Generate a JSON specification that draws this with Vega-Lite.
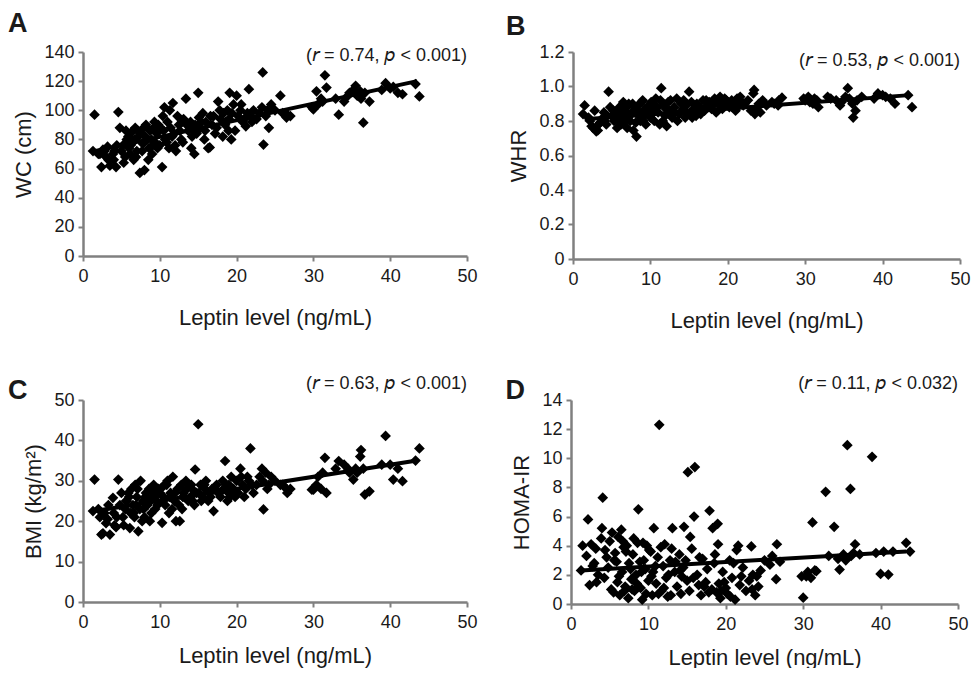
{
  "$schema": "https://vega.github.io/schema/vega-lite/v6.json",
  "background": "white",
  "padding": {"left": 7, "top": 10, "right": 0, "bottom": 0},
  "config": {
    "font": "Liberation Sans",
    "view": {"stroke": null},
    "axis": {
      "grid": false,
      "domainColor": "#808080",
      "domainWidth": 2.5,
      "tickColor": "#808080",
      "tickWidth": 2,
      "tickSize": 5,
      "labelColor": "#1a1a1a",
      "labelFontSize": 18,
      "labelFont": "Liberation Sans",
      "titleFont": "Liberation Sans",
      "titleFontSize": 22,
      "titleFontWeight": "normal",
      "titleColor": "#1a1a1a",
      "labelOverlap": false
    },
    "axisX": {"labelPadding": 6, "labelFlush": false},
    "axisY": {"labelPadding": 4, "titlePadding": 8}
  },
  "datasets": {
    "s": [
      {"leptin":1.5,"wc":97,"whr":0.89,"bmi":30.3,"homa":4.0},
      {"leptin":1.3,"wc":72,"whr":0.84,"bmi":22.5,"homa":2.3},
      {"leptin":2.2,"wc":70,"whr":0.80,"bmi":21,"homa":5.8},
      {"leptin":2.4,"wc":61,"whr":0.77,"bmi":16.7,"homa":1.3},
      {"leptin":2.6,"wc":73,"whr":0.76,"bmi":17,"homa":4.1},
      {"leptin":3.0,"wc":68,"whr":0.74,"bmi":19.5,"homa":2.8},
      {"leptin":3.2,"wc":75,"whr":0.745,"bmi":20.5,"homa":3.8},
      {"leptin":3.5,"wc":62,"whr":0.79,"bmi":16.7,"homa":2.0},
      {"leptin":3.9,"wc":70,"whr":0.82,"bmi":25.8,"homa":4.5},
      {"leptin":4.0,"wc":66,"whr":0.85,"bmi":22,"homa":5.2},
      {"leptin":4.1,"wc":72,"whr":0.80,"bmi":19,"homa":7.3},
      {"leptin":4.3,"wc":61,"whr":0.78,"bmi":18.5,"homa":1.8},
      {"leptin":4.6,"wc":98.8,"whr":0.97,"bmi":30.3,"homa":3.2},
      {"leptin":4.8,"wc":88,"whr":0.88,"bmi":24,"homa":2.5},
      {"leptin":5.0,"wc":72,"whr":0.83,"bmi":27,"homa":4.3},
      {"leptin":5.2,"wc":76,"whr":0.86,"bmi":21,"homa":1.0},
      {"leptin":5.5,"wc":68,"whr":0.81,"bmi":23,"homa":0.8},
      {"leptin":5.7,"wc":80,"whr":0.76,"bmi":25,"homa":3.5},
      {"leptin":6.0,"wc":74,"whr":0.88,"bmi":26,"homa":1.5},
      {"leptin":6.1,"wc":70,"whr":0.84,"bmi":18.3,"homa":4.6},
      {"leptin":6.3,"wc":85,"whr":0.79,"bmi":28,"homa":0.6},
      {"leptin":6.5,"wc":78,"whr":0.91,"bmi":24,"homa":5.1},
      {"leptin":6.6,"wc":66,"whr":0.82,"bmi":22,"homa":2.2},
      {"leptin":6.8,"wc":88,"whr":0.86,"bmi":29,"homa":3.9},
      {"leptin":7.0,"wc":72,"whr":0.76,"bmi":26,"homa":1.2},
      {"leptin":7.2,"wc":82,"whr":0.90,"bmi":17.5,"homa":4.0},
      {"leptin":7.4,"wc":57,"whr":0.80,"bmi":23,"homa":0.4},
      {"leptin":7.5,"wc":84,"whr":0.84,"bmi":30,"homa":2.8},
      {"leptin":7.8,"wc":77,"whr":0.745,"bmi":25,"homa":1.7},
      {"leptin":8.0,"wc":59,"whr":0.87,"bmi":21,"homa":3.4},
      {"leptin":8.2,"wc":90,"whr":0.71,"bmi":27,"homa":0.9},
      {"leptin":8.4,"wc":80,"whr":0.89,"bmi":24,"homa":2.0},
      {"leptin":8.6,"wc":74,"whr":0.85,"bmi":28,"homa":4.2},
      {"leptin":8.7,"wc":86,"whr":0.80,"bmi":20,"homa":6.5},
      {"leptin":9.0,"wc":70,"whr":0.92,"bmi":26,"homa":1.1},
      {"leptin":9.2,"wc":88,"whr":0.83,"bmi":29,"homa":0.3},
      {"leptin":9.4,"wc":78,"whr":0.78,"bmi":23,"homa":3.0},
      {"leptin":9.6,"wc":84,"whr":0.88,"bmi":25,"homa":2.4},
      {"leptin":9.8,"wc":90,"whr":0.86,"bmi":28,"homa":4.0},
      {"leptin":10.0,"wc":76,"whr":0.82,"bmi":27,"homa":1.6},
      {"leptin":10.3,"wc":61,"whr":0.90,"bmi":19.6,"homa":3.6},
      {"leptin":10.5,"wc":86,"whr":0.80,"bmi":26,"homa":0.6},
      {"leptin":10.6,"wc":102,"whr":0.87,"bmi":29,"homa":2.2},
      {"leptin":10.7,"wc":80,"whr":0.93,"bmi":24,"homa":5.2},
      {"leptin":11.0,"wc":92,"whr":0.85,"bmi":30,"homa":1.4},
      {"leptin":11.2,"wc":74,"whr":0.78,"bmi":22,"homa":3.2},
      {"leptin":11.4,"wc":88,"whr":0.99,"bmi":27,"homa":12.3},
      {"leptin":11.7,"wc":105,"whr":0.89,"bmi":31,"homa":0.9},
      {"leptin":11.9,"wc":84,"whr":0.83,"bmi":25,"homa":2.6},
      {"leptin":12.1,"wc":72,"whr":0.77,"bmi":20,"homa":4.1},
      {"leptin":12.3,"wc":96,"whr":0.91,"bmi":28,"homa":1.8},
      {"leptin":12.5,"wc":90,"whr":0.86,"bmi":24,"homa":0.5},
      {"leptin":12.8,"wc":80,"whr":0.82,"bmi":29,"homa":3.0},
      {"leptin":13.1,"wc":94,"whr":0.88,"bmi":27,"homa":5.2},
      {"leptin":13.4,"wc":108,"whr":0.93,"bmi":30,"homa":2.2},
      {"leptin":13.7,"wc":86,"whr":0.84,"bmi":25,"homa":1.2},
      {"leptin":14.0,"wc":92,"whr":0.90,"bmi":26,"homa":3.4},
      {"leptin":14.2,"wc":82,"whr":0.87,"bmi":28,"homa":0.7},
      {"leptin":14.5,"wc":70,"whr":0.82,"bmi":24,"homa":2.5},
      {"leptin":14.6,"wc":90,"whr":0.89,"bmi":32.8,"homa":5.3},
      {"leptin":15.0,"wc":112,"whr":0.97,"bmi":44,"homa":1.6},
      {"leptin":15.1,"wc":95,"whr":0.85,"bmi":27,"homa":9.05},
      {"leptin":15.3,"wc":88,"whr":0.91,"bmi":29,"homa":0.9},
      {"leptin":15.6,"wc":98,"whr":0.87,"bmi":26,"homa":3.8},
      {"leptin":15.9,"wc":86,"whr":0.83,"bmi":28,"homa":6.0},
      {"leptin":16.0,"wc":92,"whr":0.90,"bmi":30,"homa":9.4},
      {"leptin":16.3,"wc":74,"whr":0.88,"bmi":25,"homa":2.0},
      {"leptin":16.5,"wc":74.5,"whr":0.84,"bmi":27,"homa":1.3},
      {"leptin":16.8,"wc":90,"whr":0.92,"bmi":28,"homa":0.6},
      {"leptin":17.0,"wc":96,"whr":0.86,"bmi":22.5,"homa":3.1},
      {"leptin":17.4,"wc":88,"whr":0.89,"bmi":29,"homa":1.5},
      {"leptin":17.6,"wc":106,"whr":0.91,"bmi":27,"homa":2.4},
      {"leptin":17.9,"wc":94,"whr":0.87,"bmi":26,"homa":6.4},
      {"leptin":18.2,"wc":82,"whr":0.90,"bmi":30,"homa":1.0},
      {"leptin":18.3,"wc":98,"whr":0.93,"bmi":28,"homa":5.2},
      {"leptin":18.5,"wc":90,"whr":0.85,"bmi":34.9,"homa":2.8},
      {"leptin":18.8,"wc":100,"whr":0.92,"bmi":25,"homa":0.8},
      {"leptin":18.95,"wc":86,"whr":0.89,"bmi":27,"homa":5.5},
      {"leptin":19.0,"wc":94,"whr":0.94,"bmi":29,"homa":4.1},
      {"leptin":19.1,"wc":112,"whr":0.90,"bmi":26,"homa":1.4},
      {"leptin":19.3,"wc":80,"whr":0.87,"bmi":31,"homa":0.4},
      {"leptin":19.6,"wc":104,"whr":0.93,"bmi":28,"homa":2.2},
      {"leptin":20.0,"wc":110,"whr":0.91,"bmi":30,"homa":1.1},
      {"leptin":20.2,"wc":96,"whr":0.88,"bmi":27,"homa":0.7},
      {"leptin":20.5,"wc":100,"whr":0.92,"bmi":33,"homa":3.0},
      {"leptin":20.8,"wc":92,"whr":0.90,"bmi":29,"homa":1.8},
      {"leptin":21.2,"wc":89,"whr":0.93,"bmi":28,"homa":0.3},
      {"leptin":21.4,"wc":98,"whr":0.89,"bmi":31,"homa":3.7},
      {"leptin":21.6,"wc":114.5,"whr":0.94,"bmi":30,"homa":4.0},
      {"leptin":21.8,"wc":96,"whr":0.91,"bmi":38,"homa":1.3},
      {"leptin":22.2,"wc":100,"whr":0.90,"bmi":27,"homa":2.5},
      {"leptin":22.6,"wc":94,"whr":0.92,"bmi":29,"homa":0.9},
      {"leptin":23.0,"wc":98,"whr":0.86,"bmi":31,"homa":1.6},
      {"leptin":23.3,"wc":102,"whr":0.96,"bmi":33,"homa":3.95},
      {"leptin":23.4,"wc":126,"whr":0.98,"bmi":30,"homa":1.0},
      {"leptin":23.5,"wc":76.5,"whr":0.84,"bmi":22.9,"homa":2.0},
      {"leptin":23.8,"wc":96,"whr":0.88,"bmi":32,"homa":0.6},
      {"leptin":24.0,"wc":100,"whr":0.90,"bmi":28,"homa":1.9},
      {"leptin":24.2,"wc":88,"whr":0.85,"bmi":29,"homa":1.2},
      {"leptin":24.5,"wc":104,"whr":0.92,"bmi":31,"homa":2.3},
      {"leptin":25.0,"wc":100,"whr":0.89,"bmi":30,"homa":3.0},
      {"leptin":25.7,"wc":110,"whr":0.91,"bmi":29,"homa":2.7},
      {"leptin":26.0,"wc":98,"whr":0.90,"bmi":29,"homa":3.3},
      {"leptin":26.5,"wc":95,"whr":0.89,"bmi":28,"homa":1.7},
      {"leptin":26.6,"wc":97,"whr":0.92,"bmi":27,"homa":4.1},
      {"leptin":27.0,"wc":96,"whr":0.935,"bmi":28,"homa":2.9},
      {"leptin":29.8,"wc":102,"whr":0.93,"bmi":27.8,"homa":1.9},
      {"leptin":30.0,"wc":100.7,"whr":0.92,"bmi":27.8,"homa":0.43},
      {"leptin":30.4,"wc":113,"whr":0.94,"bmi":29,"homa":1.9},
      {"leptin":30.6,"wc":104,"whr":0.91,"bmi":31,"homa":2.2},
      {"leptin":31.0,"wc":108,"whr":0.90,"bmi":28,"homa":1.8},
      {"leptin":31.2,"wc":106,"whr":0.93,"bmi":32,"homa":5.6},
      {"leptin":31.5,"wc":124,"whr":0.92,"bmi":35.7,"homa":2.3},
      {"leptin":31.7,"wc":115.6,"whr":0.88,"bmi":27,"homa":2.25},
      {"leptin":32.9,"wc":108,"whr":0.94,"bmi":33,"homa":7.7},
      {"leptin":33.3,"wc":97,"whr":0.93,"bmi":34.9,"homa":3.3},
      {"leptin":34.0,"wc":106,"whr":0.92,"bmi":34,"homa":5.3},
      {"leptin":34.5,"wc":110,"whr":0.89,"bmi":33,"homa":3.1},
      {"leptin":34.7,"wc":112,"whr":0.91,"bmi":32,"homa":2.36},
      {"leptin":35.2,"wc":114,"whr":0.94,"bmi":30.3,"homa":3.4},
      {"leptin":35.5,"wc":116.8,"whr":0.99,"bmi":33,"homa":3.0},
      {"leptin":35.7,"wc":110,"whr":0.93,"bmi":32,"homa":10.9},
      {"leptin":36.1,"wc":113,"whr":0.90,"bmi":36,"homa":7.9},
      {"leptin":36.2,"wc":108,"whr":0.82,"bmi":37.6,"homa":3.3},
      {"leptin":36.5,"wc":91.5,"whr":0.86,"bmi":33,"homa":3.5},
      {"leptin":36.7,"wc":112,"whr":0.92,"bmi":26.6,"homa":4.1},
      {"leptin":37.3,"wc":106,"whr":0.94,"bmi":27.4,"homa":3.4},
      {"leptin":38.9,"wc":114,"whr":0.93,"bmi":34,"homa":10.1},
      {"leptin":39.4,"wc":118.6,"whr":0.96,"bmi":41.1,"homa":3.5},
      {"leptin":40.0,"wc":115,"whr":0.95,"bmi":34,"homa":2.06},
      {"leptin":40.4,"wc":116,"whr":0.94,"bmi":30.3,"homa":3.6},
      {"leptin":41.0,"wc":112,"whr":0.93,"bmi":33,"homa":2.02},
      {"leptin":41.6,"wc":111,"whr":0.90,"bmi":29.9,"homa":3.6},
      {"leptin":43.3,"wc":118,"whr":0.95,"bmi":35,"homa":4.2},
      {"leptin":43.8,"wc":109.5,"whr":0.88,"bmi":38,"homa":3.6},
      {"leptin":2.0,"wc":70,"whr":0.82,"bmi":23,"homa":3.3},
      {"leptin":2.8,"wc":72,"whr":0.86,"bmi":22,"homa":2.6},
      {"leptin":3.3,"wc":66,"whr":0.78,"bmi":24,"homa":1.5},
      {"leptin":4.4,"wc":76,"whr":0.83,"bmi":21,"homa":3.7},
      {"leptin":5.3,"wc":64,"whr":0.80,"bmi":19,"homa":4.9},
      {"leptin":5.9,"wc":82,"whr":0.85,"bmi":27,"homa":2.9},
      {"leptin":6.2,"wc":76,"whr":0.78,"bmi":22,"homa":1.9},
      {"leptin":6.9,"wc":68,"whr":0.88,"bmi":24,"homa":0.9},
      {"leptin":7.1,"wc":86,"whr":0.82,"bmi":28,"homa":3.6},
      {"leptin":7.7,"wc":72,"whr":0.90,"bmi":20,"homa":2.4},
      {"leptin":8.1,"wc":82,"whr":0.79,"bmi":26,"homa":4.5},
      {"leptin":8.5,"wc":66,"whr":0.83,"bmi":25,"homa":1.4},
      {"leptin":8.9,"wc":80,"whr":0.91,"bmi":22,"homa":2.9},
      {"leptin":9.3,"wc":92,"whr":0.87,"bmi":26,"homa":4.2},
      {"leptin":9.7,"wc":74,"whr":0.84,"bmi":24,"homa":0.7},
      {"leptin":10.1,"wc":88,"whr":0.91,"bmi":28,"homa":3.7},
      {"leptin":10.4,"wc":96,"whr":0.85,"bmi":25,"homa":1.9},
      {"leptin":10.9,"wc":78,"whr":0.88,"bmi":29,"homa":2.6},
      {"leptin":11.3,"wc":100,"whr":0.92,"bmi":26,"homa":0.7},
      {"leptin":11.6,"wc":82,"whr":0.80,"bmi":23,"homa":3.9},
      {"leptin":12.0,"wc":76,"whr":0.87,"bmi":27,"homa":1.1},
      {"leptin":12.6,"wc":86,"whr":0.92,"bmi":20,"homa":2.0},
      {"leptin":13.0,"wc":78,"whr":0.86,"bmi":26,"homa":3.8},
      {"leptin":13.5,"wc":90,"whr":0.80,"bmi":28,"homa":2.9},
      {"leptin":14.3,"wc":88,"whr":0.92,"bmi":25,"homa":1.9},
      {"leptin":14.8,"wc":84,"whr":0.84,"bmi":27,"homa":3.0},
      {"leptin":15.4,"wc":92,"whr":0.82,"bmi":25,"homa":4.6},
      {"leptin":15.8,"wc":80,"whr":0.89,"bmi":29,"homa":1.8},
      {"leptin":16.6,"wc":96,"whr":0.87,"bmi":26,"homa":3.2},
      {"leptin":17.2,"wc":84,"whr":0.92,"bmi":28,"homa":1.2},
      {"leptin":17.8,"wc":100,"whr":0.88,"bmi":27,"homa":0.8},
      {"leptin":18.6,"wc":92,"whr":0.91,"bmi":29,"homa":3.4},
      {"leptin":19.4,"wc":98,"whr":0.89,"bmi":27,"homa":0.9},
      {"leptin":19.8,"wc":86,"whr":0.92,"bmi":26,"homa":1.5},
      {"leptin":20.6,"wc":104,"whr":0.88,"bmi":31,"homa":0.5},
      {"leptin":21.0,"wc":94,"whr":0.86,"bmi":26,"homa":2.8},
      {"leptin":22.0,"wc":92,"whr":0.89,"bmi":29,"homa":1.9},
      {"leptin":5.6,"wc":86,"whr":0.84,"bmi":25,"homa":3.0},
      {"leptin":6.7,"wc":80,"whr":0.80,"bmi":21,"homa":4.3},
      {"leptin":7.9,"wc":88,"whr":0.86,"bmi":23,"homa":1.0},
      {"leptin":9.1,"wc":76,"whr":0.80,"bmi":27,"homa":2.2},
      {"leptin":12.9,"wc":92,"whr":0.84,"bmi":23,"homa":0.6},
      {"leptin":14.1,"wc":74,"whr":0.90,"bmi":29,"homa":2.3}
    ],
    "ln": [
      {"panel":"A","leptin":1.5,"wc":72},
      {"panel":"A","leptin":43.5,"wc":120},
      {"panel":"B","leptin":1.5,"whr":0.81},
      {"panel":"B","leptin":43.5,"whr":0.95},
      {"panel":"C","leptin":1.5,"bmi":22.5},
      {"panel":"C","leptin":43.5,"bmi":35},
      {"panel":"D","leptin":1.3,"homa":2.3},
      {"panel":"D","leptin":43.3,"homa":3.6}
    ]
  },
  "vconcat": [
    {
      "spacing": 27,
      "hconcat": [
        {
          "width": 384, "height": 204,
          "layer": [
            {"data": {"name": "s"},
             "mark": {"type": "point", "shape": "diamond", "filled": true, "size": 115, "color": "black", "opacity": 1},
             "encoding": {
               "x": {"field": "leptin", "type": "quantitative", "title": "Leptin level (ng/mL)", "scale": {"domain": [0, 50]}, "axis": {"values": [0,10,20,30,40,50], "labelFlush": false, "titlePadding": 22}},
               "y": {"field": "wc", "type": "quantitative", "title": "WC (cm)", "scale": {"domain": [0, 140]}, "axis": {"values": [0,20,40,60,80,100,120,140]}}
             }},
            {"data": {"name": "ln"}, "transform": [{"filter": "datum.panel == 'A'"}],
             "mark": {"type": "line", "color": "black", "strokeWidth": 4},
             "encoding": {
               "x": {"field": "leptin", "type": "quantitative", "title": "Leptin level (ng/mL)", "scale": {"domain": [0, 50]}, "axis": {"values": [0,10,20,30,40,50], "labelFlush": false, "titlePadding": 22}},
               "y": {"field": "wc", "type": "quantitative", "title": "WC (cm)", "scale": {"domain": [0, 140]}, "axis": {"values": [0,20,40,60,80,100,120,140]}}
             }},
            {"data": {"values": [{"note": "(𝘳 = 0.74, 𝘱 < 0.001)"}]},
             "mark": {"type": "text", "align": "right", "baseline": "middle", "fontSize": 18, "color": "#1a1a1a"},
             "encoding": {
               "x": {"datum": 50, "type": "quantitative", "title": "Leptin level (ng/mL)", "scale": {"domain": [0, 50]}, "axis": {"values": [0,10,20,30,40,50], "labelFlush": false, "titlePadding": 22}},
               "y": {"datum": 137, "type": "quantitative", "title": "WC (cm)", "scale": {"domain": [0, 140]}, "axis": {"values": [0,20,40,60,80,100,120,140]}},
               "text": {"field": "note"}}},
            {"data": {"values": [{"letter": "A"}]},
             "mark": {"type": "text", "align": "center", "baseline": "middle", "fontSize": 27, "fontWeight": "bold", "color": "#1a1a1a"},
             "encoding": {
               "x": {"datum": -8.5, "type": "quantitative", "title": "Leptin level (ng/mL)", "scale": {"domain": [0, 50]}, "axis": {"values": [0,10,20,30,40,50], "labelFlush": false, "titlePadding": 22}},
               "y": {"datum": 159, "type": "quantitative", "title": "WC (cm)", "scale": {"domain": [0, 140]}, "axis": {"values": [0,20,40,60,80,100,120,140]}},
               "text": {"field": "letter"}}}
          ]
        },
        {
          "width": 387, "height": 207,
          "layer": [
            {"data": {"name": "s"},
             "mark": {"type": "point", "shape": "diamond", "filled": true, "size": 115, "color": "black", "opacity": 1},
             "encoding": {
               "x": {"field": "leptin", "type": "quantitative", "title": "Leptin level (ng/mL)", "scale": {"domain": [0, 50]}, "axis": {"values": [0,10,20,30,40,50], "labelFlush": false, "titlePadding": 22}},
               "y": {"field": "whr", "type": "quantitative", "title": "WHR", "scale": {"domain": [0, 1.2]}, "axis": {"values": [0,0.2,0.4,0.6,0.8,1.0,1.2], "labelExpr": "datum.value == 0 ? '0' : format(datum.value, '.1f')"}}
             }},
            {"data": {"name": "ln"}, "transform": [{"filter": "datum.panel == 'B'"}],
             "mark": {"type": "line", "color": "black", "strokeWidth": 4},
             "encoding": {
               "x": {"field": "leptin", "type": "quantitative", "title": "Leptin level (ng/mL)", "scale": {"domain": [0, 50]}, "axis": {"values": [0,10,20,30,40,50], "labelFlush": false, "titlePadding": 22}},
               "y": {"field": "whr", "type": "quantitative", "title": "WHR", "scale": {"domain": [0, 1.2]}, "axis": {"values": [0,0.2,0.4,0.6,0.8,1.0,1.2], "labelExpr": "datum.value == 0 ? '0' : format(datum.value, '.1f')"}}
             }},
            {"data": {"values": [{"note": "(𝘳 = 0.53, 𝘱 < 0.001)"}]},
             "mark": {"type": "text", "align": "right", "baseline": "middle", "fontSize": 18, "color": "#1a1a1a"},
             "encoding": {
               "x": {"datum": 50, "type": "quantitative", "title": "Leptin level (ng/mL)", "scale": {"domain": [0, 50]}, "axis": {"values": [0,10,20,30,40,50], "labelFlush": false, "titlePadding": 22}},
               "y": {"datum": 1.15, "type": "quantitative", "title": "WHR", "scale": {"domain": [0, 1.2]}, "axis": {"values": [0,0.2,0.4,0.6,0.8,1.0,1.2], "labelExpr": "datum.value == 0 ? '0' : format(datum.value, '.1f')"}},
               "text": {"field": "note"}}},
            {"data": {"values": [{"letter": "B"}]},
             "mark": {"type": "text", "align": "center", "baseline": "middle", "fontSize": 27, "fontWeight": "bold", "color": "#1a1a1a"},
             "encoding": {
               "x": {"datum": -7.4, "type": "quantitative", "title": "Leptin level (ng/mL)", "scale": {"domain": [0, 50]}, "axis": {"values": [0,10,20,30,40,50], "labelFlush": false, "titlePadding": 22}},
               "y": {"datum": 1.345, "type": "quantitative", "title": "WHR", "scale": {"domain": [0, 1.2]}, "axis": {"values": [0,0.2,0.4,0.6,0.8,1.0,1.2], "labelExpr": "datum.value == 0 ? '0' : format(datum.value, '.1f')"}},
               "text": {"field": "letter"}}}
          ]
        }
      ]
    },
    {
      "spacing": 27,
      "hconcat": [
        {
          "width": 384, "height": 202,
          "layer": [
            {"data": {"name": "s"},
             "mark": {"type": "point", "shape": "diamond", "filled": true, "size": 115, "color": "black", "opacity": 1},
             "encoding": {
               "x": {"field": "leptin", "type": "quantitative", "title": "Leptin level (ng/mL)", "scale": {"domain": [0, 50]}, "axis": {"values": [0,10,20,30,40,50], "labelFlush": false, "titlePadding": 14}},
               "y": {"field": "bmi", "type": "quantitative", "title": "BMI (kg/m²)", "scale": {"domain": [0, 50]}, "axis": {"values": [0,10,20,30,40,50]}}
             }},
            {"data": {"name": "ln"}, "transform": [{"filter": "datum.panel == 'C'"}],
             "mark": {"type": "line", "color": "black", "strokeWidth": 4},
             "encoding": {
               "x": {"field": "leptin", "type": "quantitative", "title": "Leptin level (ng/mL)", "scale": {"domain": [0, 50]}, "axis": {"values": [0,10,20,30,40,50], "labelFlush": false, "titlePadding": 14}},
               "y": {"field": "bmi", "type": "quantitative", "title": "BMI (kg/m²)", "scale": {"domain": [0, 50]}, "axis": {"values": [0,10,20,30,40,50]}}
             }},
            {"data": {"values": [{"note": "(𝘳 = 0.63, 𝘱 < 0.001)"}]},
             "mark": {"type": "text", "align": "right", "baseline": "middle", "fontSize": 18, "color": "#1a1a1a"},
             "encoding": {
               "x": {"datum": 50, "type": "quantitative", "title": "Leptin level (ng/mL)", "scale": {"domain": [0, 50]}, "axis": {"values": [0,10,20,30,40,50], "labelFlush": false, "titlePadding": 14}},
               "y": {"datum": 54, "type": "quantitative", "title": "BMI (kg/m²)", "scale": {"domain": [0, 50]}, "axis": {"values": [0,10,20,30,40,50]}},
               "text": {"field": "note"}}},
            {"data": {"values": [{"letter": "C"}]},
             "mark": {"type": "text", "align": "center", "baseline": "middle", "fontSize": 27, "fontWeight": "bold", "color": "#1a1a1a"},
             "encoding": {
               "x": {"datum": -8.5, "type": "quantitative", "title": "Leptin level (ng/mL)", "scale": {"domain": [0, 50]}, "axis": {"values": [0,10,20,30,40,50], "labelFlush": false, "titlePadding": 14}},
               "y": {"datum": 52.2, "type": "quantitative", "title": "BMI (kg/m²)", "scale": {"domain": [0, 50]}, "axis": {"values": [0,10,20,30,40,50]}},
               "text": {"field": "letter"}}}
          ]
        },
        {
          "width": 387, "height": 204,
          "layer": [
            {"data": {"name": "s"},
             "mark": {"type": "point", "shape": "diamond", "filled": true, "size": 115, "color": "black", "opacity": 1},
             "encoding": {
               "x": {"field": "leptin", "type": "quantitative", "title": "Leptin level (ng/mL)", "scale": {"domain": [0, 50]}, "axis": {"values": [0,10,20,30,40,50], "labelFlush": false, "titlePadding": 14}},
               "y": {"field": "homa", "type": "quantitative", "title": "HOMA-IR", "scale": {"domain": [0, 14]}, "axis": {"values": [0,2,4,6,8,10,12,14]}}
             }},
            {"data": {"name": "ln"}, "transform": [{"filter": "datum.panel == 'D'"}],
             "mark": {"type": "line", "color": "black", "strokeWidth": 4},
             "encoding": {
               "x": {"field": "leptin", "type": "quantitative", "title": "Leptin level (ng/mL)", "scale": {"domain": [0, 50]}, "axis": {"values": [0,10,20,30,40,50], "labelFlush": false, "titlePadding": 14}},
               "y": {"field": "homa", "type": "quantitative", "title": "HOMA-IR", "scale": {"domain": [0, 14]}, "axis": {"values": [0,2,4,6,8,10,12,14]}}
             }},
            {"data": {"values": [{"note": "(𝘳 = 0.11, 𝘱 < 0.032)"}]},
             "mark": {"type": "text", "align": "right", "baseline": "middle", "fontSize": 18, "color": "#1a1a1a"},
             "encoding": {
               "x": {"datum": 50, "type": "quantitative", "title": "Leptin level (ng/mL)", "scale": {"domain": [0, 50]}, "axis": {"values": [0,10,20,30,40,50], "labelFlush": false, "titlePadding": 14}},
               "y": {"datum": 15.1, "type": "quantitative", "title": "HOMA-IR", "scale": {"domain": [0, 14]}, "axis": {"values": [0,2,4,6,8,10,12,14]}},
               "text": {"field": "note"}}},
            {"data": {"values": [{"letter": "D"}]},
             "mark": {"type": "text", "align": "center", "baseline": "middle", "fontSize": 27, "fontWeight": "bold", "color": "#1a1a1a"},
             "encoding": {
               "x": {"datum": -7.2, "type": "quantitative", "title": "Leptin level (ng/mL)", "scale": {"domain": [0, 50]}, "axis": {"values": [0,10,20,30,40,50], "labelFlush": false, "titlePadding": 14}},
               "y": {"datum": 14.6, "type": "quantitative", "title": "HOMA-IR", "scale": {"domain": [0, 14]}, "axis": {"values": [0,2,4,6,8,10,12,14]}},
               "text": {"field": "letter"}}}
          ]
        }
      ]
    }
  ],
  "spacing": 43
}
